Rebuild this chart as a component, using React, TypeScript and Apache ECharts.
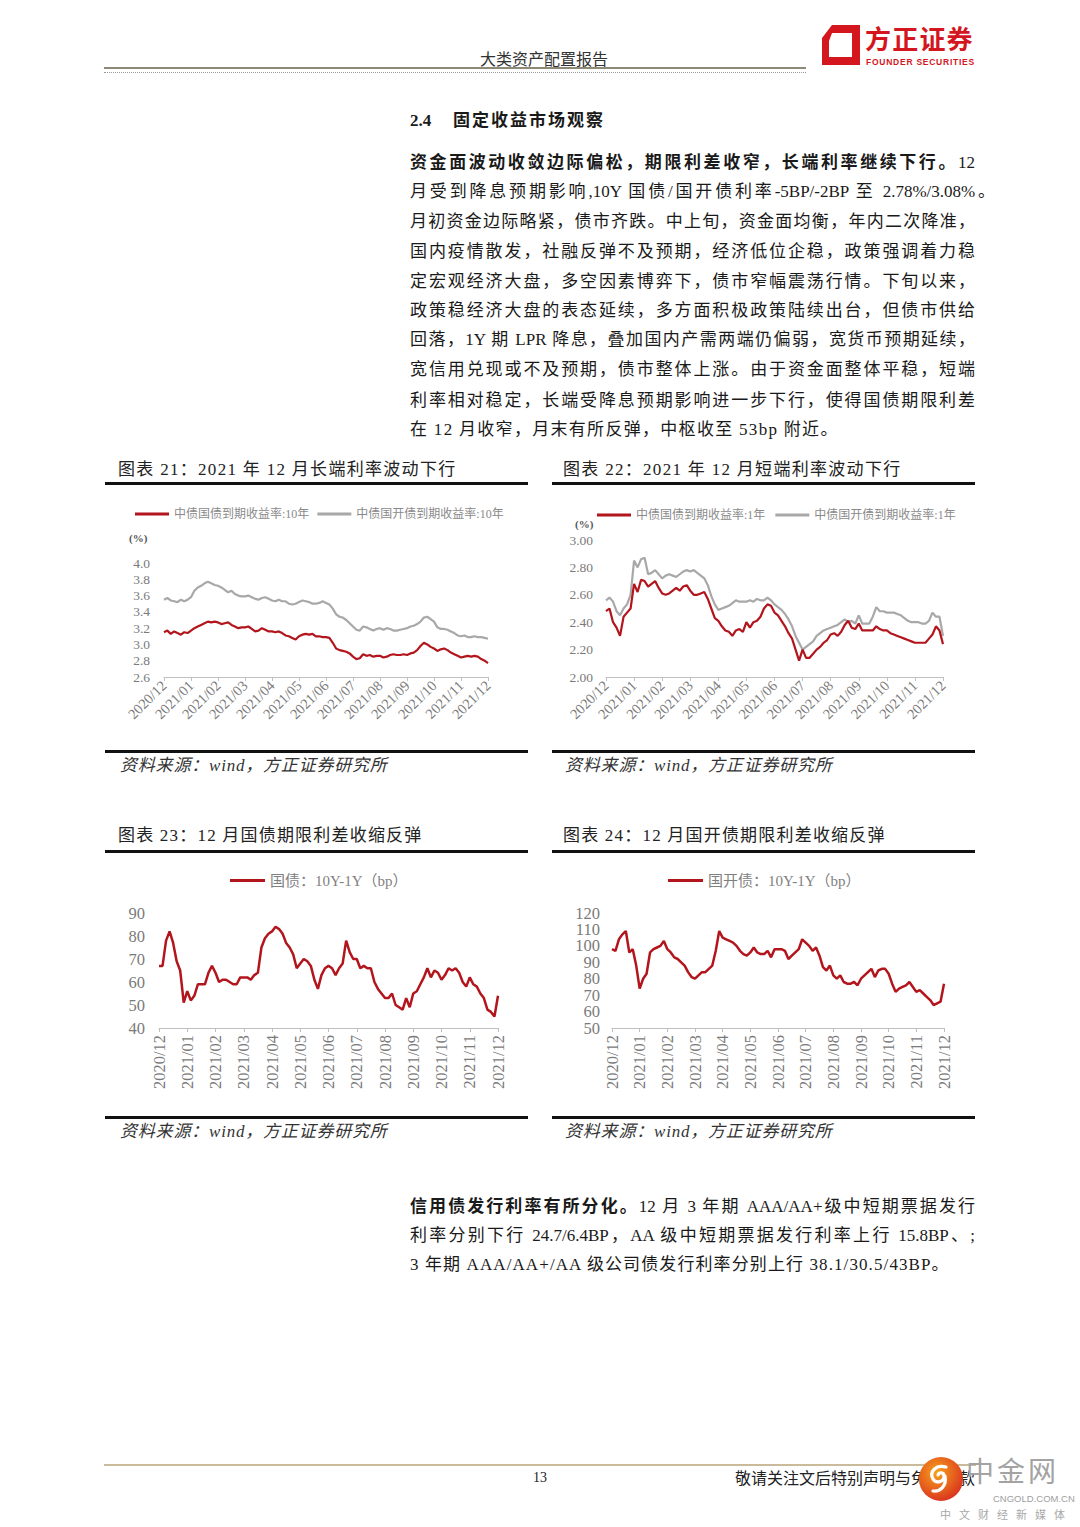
import React, { useEffect, useRef } from "react";
import * as echarts from "echarts";

// ---------- data ----------
const monthLabels = [
  "2020/12", "2021/01", "2021/02", "2021/03", "2021/04", "2021/05", "2021/06",
  "2021/07", "2021/08", "2021/09", "2021/10", "2021/11", "2021/12",
];

// 8 readings per month, plus the final point
const cdb10y = [
  3.55, 3.57, 3.54, 3.53, 3.52, 3.55, 3.53, 3.55,
  3.58, 3.66, 3.70, 3.72, 3.75, 3.77, 3.75, 3.73,
  3.72, 3.70, 3.67, 3.64, 3.66, 3.62, 3.60, 3.59,
  3.59, 3.60, 3.58, 3.56, 3.55, 3.57, 3.58, 3.56,
  3.54, 3.53, 3.55, 3.53, 3.53, 3.50, 3.49, 3.50,
  3.52, 3.54, 3.53, 3.52, 3.50, 3.50, 3.51, 3.53,
  3.51, 3.49, 3.44, 3.37, 3.34, 3.33, 3.30, 3.26,
  3.22, 3.18, 3.17, 3.22, 3.21, 3.19, 3.17, 3.19,
  3.20, 3.18, 3.20, 3.19, 3.17, 3.17, 3.18, 3.19,
  3.20, 3.22, 3.23, 3.25, 3.28, 3.33, 3.34, 3.31,
  3.28, 3.21, 3.19, 3.19, 3.18, 3.16, 3.14, 3.11,
  3.10, 3.11, 3.09, 3.09, 3.10, 3.09, 3.09, 3.08,
  3.07,
];
const cgb10y = [
  3.15, 3.17, 3.13, 3.16, 3.14, 3.12, 3.15, 3.14,
  3.17, 3.20, 3.22, 3.24, 3.26, 3.28, 3.27, 3.28,
  3.27, 3.25, 3.26, 3.27, 3.24, 3.22, 3.20, 3.21,
  3.21, 3.22, 3.19, 3.16, 3.17, 3.20, 3.18, 3.16,
  3.16, 3.15, 3.16, 3.14, 3.11, 3.10, 3.08, 3.06,
  3.10, 3.12, 3.13, 3.12, 3.13, 3.10, 3.10, 3.09,
  3.09, 3.08, 3.02, 2.95, 2.93, 2.92, 2.91, 2.89,
  2.85, 2.82, 2.83, 2.88, 2.86, 2.87, 2.85, 2.86,
  2.86, 2.84, 2.85, 2.87, 2.88, 2.87, 2.87, 2.88,
  2.87, 2.89, 2.90, 2.93, 2.98, 3.02, 3.00, 2.97,
  2.95, 2.92, 2.94, 2.95, 2.93, 2.90, 2.88, 2.86,
  2.84, 2.85, 2.86, 2.85, 2.86, 2.85, 2.82, 2.80,
  2.77,
];
const cdb1y = [
  2.56, 2.58, 2.55, 2.48, 2.45, 2.50, 2.53, 2.60,
  2.85, 2.80, 2.86, 2.87, 2.75, 2.76, 2.78, 2.75,
  2.72, 2.74, 2.75, 2.74, 2.73, 2.75, 2.77, 2.78,
  2.77, 2.78, 2.76, 2.74, 2.72, 2.67, 2.59, 2.53,
  2.49, 2.50, 2.51, 2.52, 2.54, 2.56, 2.55, 2.55,
  2.55, 2.56, 2.55, 2.57, 2.56, 2.56, 2.58, 2.56,
  2.53, 2.51, 2.49, 2.46, 2.42, 2.37, 2.30, 2.25,
  2.20, 2.22, 2.24, 2.26, 2.30, 2.32, 2.34, 2.35,
  2.36, 2.37, 2.38, 2.40, 2.42, 2.40, 2.41, 2.39,
  2.45, 2.39, 2.39, 2.39, 2.44, 2.51, 2.48, 2.48,
  2.47, 2.47, 2.47, 2.46, 2.45, 2.43, 2.41, 2.40,
  2.40, 2.40, 2.39, 2.39, 2.41, 2.47, 2.44, 2.44,
  2.30,
];
const cgb1y = [
  2.48, 2.50, 2.40, 2.36, 2.30, 2.44, 2.47, 2.50,
  2.68, 2.62, 2.71, 2.70, 2.66, 2.68, 2.70, 2.65,
  2.61, 2.60, 2.61, 2.63, 2.65, 2.63, 2.66, 2.67,
  2.63, 2.60, 2.60, 2.61, 2.62, 2.57, 2.50, 2.43,
  2.41, 2.37, 2.34, 2.33, 2.30, 2.34, 2.35, 2.33,
  2.40, 2.36, 2.40, 2.41, 2.44, 2.50, 2.53, 2.52,
  2.47, 2.45, 2.41, 2.37, 2.32, 2.28, 2.20, 2.12,
  2.20, 2.14, 2.14, 2.17, 2.20, 2.22, 2.25, 2.27,
  2.31, 2.32, 2.30, 2.33, 2.38, 2.41, 2.36, 2.35,
  2.39, 2.34, 2.34, 2.34, 2.34, 2.37, 2.35, 2.34,
  2.34, 2.32, 2.31, 2.30, 2.29, 2.28, 2.27, 2.26,
  2.25, 2.25, 2.25, 2.25, 2.28, 2.31, 2.37, 2.34,
  2.24,
];
const cgbSpread = [
  67, 67, 78, 82, 77, 69, 65, 51,
  56, 52, 54, 59, 59, 59, 64, 67,
  64, 60, 61, 61, 60, 59, 59, 62,
  62, 62, 61, 63, 64, 75, 79, 81,
  82, 84, 83, 81, 77, 75, 72, 66,
  68, 70, 69, 67, 61, 57, 63, 66,
  67, 66, 63, 66, 68, 78, 73, 70,
  70, 66, 67, 66, 66, 60, 57, 55,
  53, 53, 55, 50, 49, 48, 53, 49,
  55, 56, 59, 62, 66, 62, 65, 64,
  61, 63, 66, 65, 66, 64, 60, 58,
  62, 59, 58, 55, 53, 48, 47, 45,
  54,
];
const cdbSpread = [
  98, 97, 104, 107, 109, 96, 98, 88,
  74, 80, 83, 96, 98, 99, 100, 103,
  98, 96, 93, 92, 90, 88, 84, 81,
  80, 82, 84, 84, 86, 88, 97, 109,
  105, 104, 103, 102, 100, 97, 95, 94,
  96, 99, 96, 95, 95, 97, 93, 98,
  98, 98, 97, 92, 94, 96, 98, 104,
  102, 100, 97, 99, 94, 87, 85, 88,
  82, 80, 82, 78, 77, 77, 78, 76,
  80, 82, 84, 86, 81, 85, 86, 86,
  83, 77, 72, 74, 75, 76, 78, 75,
  72, 73, 71, 69, 67, 64, 65, 66,
  77,
];

const names = {
  cgb10: "中债国债到期收益率:10年",
  cdb10: "中债国开债到期收益率:10年",
  cgb1: "中债国债到期收益率:1年",
  cdb1: "中债国开债到期收益率:1年",
  cgbS: "国债：10Y-1Y（bp）",
  cdbS: "国开债：10Y-1Y（bp）",
};

// ---------- styles ----------
const SERIF = '"Liberation Serif", "Noto Sans CJK SC", serif';
const SANS = '"Noto Sans CJK SC", "Liberation Sans", sans-serif';
const RED = "#b3151d";
const GRAY = "#a8a8a8";
const PER_MONTH = 8;

function buildCategories(): string[] {
  const out: string[] = [];
  for (let m = 0; m < monthLabels.length - 1; m++) {
    for (let k = 0; k < PER_MONTH; k++) out.push(`${monthLabels[m]}-${k}`);
  }
  out.push(monthLabels[monthLabels.length - 1]);
  return out;
}

function xAxis(gridIndex: number, cats: string[], rotate: number, fontSize: number, margin: number) {
  const show = (i: number) => i % PER_MONTH === 0;
  return {
    type: "category",
    gridIndex,
    data: cats,
    boundaryGap: false,
    axisLine: { show: true, lineStyle: { color: "#bfbfbf", width: 1 } },
    axisTick: { show: true, interval: show, length: 4, lineStyle: { color: "#bfbfbf" } },
    axisLabel: {
      interval: show,
      rotate,
      fontSize,
      margin,
      color: "#7a7a7a",
      fontFamily: SERIF,
      formatter: (v: string) => v.split("-")[0],
    },
    splitLine: { show: false },
  };
}

function yAxis(gridIndex: number, min: number, max: number, interval: number, digits: number, fontSize: number, margin: number) {
  return {
    type: "value",
    gridIndex,
    min,
    max,
    interval,
    axisLine: { show: false },
    axisTick: { show: false },
    splitLine: { show: false },
    axisLabel: {
      fontSize,
      margin,
      color: "#7a7a7a",
      fontFamily: SERIF,
      formatter: (v: number) => v.toFixed(digits),
    },
  };
}

function lineSeries(name: string, data: number[], idx: number, color: string, width: number) {
  return {
    type: "line",
    name,
    data,
    xAxisIndex: idx,
    yAxisIndex: idx,
    showSymbol: false,
    symbol: "none",
    lineStyle: { color, width },
    itemStyle: { color },
  };
}

// ---------- small html helpers ----------
const Txt = ({ x, y, size, lh = 1.5, children, style }: any) => (
  <div
    style={{
      position: "absolute",
      left: x,
      top: y - (size * lh) / 2,
      fontSize: size,
      lineHeight: `${size * lh}px`,
      whiteSpace: "nowrap",
      fontFamily: SERIF,
      color: "#1a1a1a",
      ...style,
    }}
  >
    {children}
  </div>
);

const JLine = ({ y, w = 565, children }: any) => (
  <div
    style={{
      position: "absolute",
      left: 410,
      top: y - 15,
      width: w,
      height: 30,
      lineHeight: "30px",
      fontSize: 17,
      textAlign: "justify",
      textAlignLast: "justify",
      fontFamily: SERIF,
      color: "#1a1a1a",
    } as any}
  >
    {children}
  </div>
);

const Rule = ({ x, y, w, h, color }: any) => (
  <div style={{ position: "absolute", left: x, top: y, width: w, height: h, background: color }} />
);

const B = ({ children }: any) => <span style={{ fontWeight: 700 }}>{children}</span>;

export default function App() {
  const ref = useRef<HTMLDivElement>(null);

  useEffect(() => {
    if (!ref.current) return;
    const chart = echarts.init(ref.current, null, { renderer: "svg", width: 1080, height: 1527 });
    const cats = buildCategories();
    const legendBase = {
      icon: "rect",
      itemWidth: 34,
      itemHeight: 3,
      selectedMode: false,
      orient: "horizontal",
    };
    const option: any = {
      animation: false,
      backgroundColor: "transparent",
      grid: [
        { left: 164, top: 563, width: 324, height: 114, outerBoundsMode: "none" },
        { left: 606, top: 540, width: 337, height: 137, outerBoundsMode: "none" },
        { left: 159, top: 913, width: 339, height: 115, outerBoundsMode: "none" },
        { left: 612, top: 913, width: 332, height: 115, outerBoundsMode: "none" },
      ],
      xAxis: [
        xAxis(0, cats, 45, 14.5, 6),
        xAxis(1, cats, 45, 14.5, 6),
        xAxis(2, cats, 90, 16.5, 7),
        xAxis(3, cats, 90, 16.5, 7),
      ],
      yAxis: [
        yAxis(0, 2.6, 4.0, 0.2, 1, 13.5, 14),
        yAxis(1, 2.0, 3.0, 0.2, 2, 13.5, 13),
        yAxis(2, 40, 90, 10, 0, 16.5, 14),
        yAxis(3, 50, 120, 10, 0, 16.5, 12),
      ],
      legend: [
        {
          ...legendBase,
          data: [names.cgb10, names.cdb10],
          left: 130,
          top: 503,
          itemGap: 8,
          textStyle: { fontSize: 12, color: "#8a8a8a", fontFamily: SERIF },
        },
        {
          ...legendBase,
          data: [names.cgb1, names.cdb1],
          left: 592,
          top: 504,
          itemGap: 10,
          textStyle: { fontSize: 12, color: "#8a8a8a", fontFamily: SERIF },
        },
        {
          ...legendBase,
          itemWidth: 35,
          data: [names.cgbS],
          left: 225,
          top: 868,
          textStyle: { fontSize: 15, color: "#7f7f7f", fontFamily: SERIF },
        },
        {
          ...legendBase,
          itemWidth: 35,
          data: [names.cdbS],
          left: 663,
          top: 868,
          textStyle: { fontSize: 15, color: "#7f7f7f", fontFamily: SERIF },
        },
      ],
      graphic: [
        {
          type: "text",
          left: 129,
          top: 532,
          style: { text: "(%)", fontSize: 11, fontWeight: "bold", fill: "#555", fontFamily: SERIF },
        },
        {
          type: "text",
          left: 575,
          top: 518,
          style: { text: "(%)", fontSize: 11, fontWeight: "bold", fill: "#555", fontFamily: SERIF },
        },
      ],
      series: [
        lineSeries(names.cgb10, cgb10y, 0, RED, 2.2),
        lineSeries(names.cdb10, cdb10y, 0, GRAY, 2.2),
        lineSeries(names.cdb1, cdb1y, 1, GRAY, 2.2),
        lineSeries(names.cgb1, cgb1y, 1, RED, 2.2),
        lineSeries(names.cgbS, cgbSpread, 2, RED, 2.5),
        lineSeries(names.cdbS, cdbSpread, 3, RED, 2.5),
      ],
    };
    chart.setOption(option);
    return () => chart.dispose();
  }, []);

  return (
    <div
      lang="zh-CN"
      style={{
        position: "absolute",
        left: 0,
        top: 0,
        width: 1080,
        height: 1527,
        overflow: "hidden",
        background: "#ffffff",
        fontFamily: SERIF,
      }}
    >
      <div ref={ref} style={{ position: "absolute", left: 0, top: 0, width: 1080, height: 1527 }} />

      {/* header */}
      <Txt x={480} y={59} size={16} lh={1.2} style={{ color: "#333", fontFamily: SANS }}>大类资产配置报告</Txt>
      <Rule x={104} y={67} w={702} h={2} color="#8f8a77" />
      <div style={{ position: "absolute", left: 104, top: 72, width: 702, borderTop: "1px dotted #9a9a9a" }} />
      <svg style={{ position: "absolute", left: 818, top: 22 }} width={46} height={46} viewBox="0 0 46 46">
        <path d="M14 3 H42 V43 H4 V16 Z M14 11 L11 19 V35 H34 V11 Z" fill="#d4161e" fillRule="evenodd" />
      </svg>
      <Txt x={865} y={38} size={26} lh={1.0} style={{ color: "#d4161e", fontWeight: 700, fontFamily: SANS, letterSpacing: 1.2 }}>方正证券</Txt>
      <Txt x={866} y={62} size={8.5} lh={1.0} style={{ color: "#d4161e", fontWeight: 700, fontFamily: '"Liberation Sans", sans-serif', letterSpacing: 0.75 }}>FOUNDER SECURITIES</Txt>

      {/* section heading */}
      <Txt x={410} y={121} size={17} style={{ fontWeight: 700 }}>2.4</Txt>
      <Txt x={453} y={121} size={17} style={{ fontWeight: 700, letterSpacing: 2 }}>固定收益市场观察</Txt>

      {/* paragraph 1 */}
      <JLine y={163}><B>资金面波动收敛边际偏松，期限利差收窄，长端利率继续下行。</B>12</JLine>
      <JLine y={192} w={585}>月受到降息预期影响,10Y 国债/国开债利率-5BP/-2BP 至 2.78%/3.08%。</JLine>
      <JLine y={222}>月初资金边际略紧，债市齐跌。中上旬，资金面均衡，年内二次降准，</JLine>
      <JLine y={252}>国内疫情散发，社融反弹不及预期，经济低位企稳，政策强调着力稳</JLine>
      <JLine y={282}>定宏观经济大盘，多空因素博弈下，债市窄幅震荡行情。下旬以来，</JLine>
      <JLine y={311}>政策稳经济大盘的表态延续，多方面积极政策陆续出台，但债市供给</JLine>
      <JLine y={340}>回落，1Y 期 LPR 降息，叠加国内产需两端仍偏弱，宽货币预期延续，</JLine>
      <JLine y={370}>宽信用兑现或不及预期，债市整体上涨。由于资金面整体平稳，短端</JLine>
      <JLine y={401}>利率相对稳定，长端受降息预期影响进一步下行，使得国债期限利差</JLine>
      <Txt x={410} y={430} size={17} style={{ letterSpacing: 1.3 }}>在 12 月收窄，月末有所反弹，中枢收至 53bp 附近。</Txt>

      {/* chart titles and rules */}
      <Txt x={118} y={470} size={17} style={{ letterSpacing: 1.3, color: "#222" }}>图表 21：2021 年 12 月长端利率波动下行</Txt>
      <Txt x={563} y={470} size={17} style={{ letterSpacing: 1.3, color: "#222" }}>图表 22：2021 年 12 月短端利率波动下行</Txt>
      <Rule x={105} y={482} w={423} h={3} color="#111" />
      <Rule x={552} y={482} w={423} h={3} color="#111" />
      <Rule x={105} y={750} w={423} h={3} color="#111" />
      <Rule x={552} y={750} w={423} h={3} color="#111" />
      <Txt x={120} y={766} size={17} style={{ fontStyle: "italic", letterSpacing: 0.8, color: "#333" }}>资料来源：wind，方正证券研究所</Txt>
      <Txt x={565} y={766} size={17} style={{ fontStyle: "italic", letterSpacing: 0.8, color: "#333" }}>资料来源：wind，方正证券研究所</Txt>

      <Txt x={118} y={836} size={17} style={{ letterSpacing: 1.2, color: "#222" }}>图表 23：12 月国债期限利差收缩反弹</Txt>
      <Txt x={563} y={836} size={17} style={{ letterSpacing: 1.2, color: "#222" }}>图表 24：12 月国开债期限利差收缩反弹</Txt>
      <Rule x={105} y={850} w={423} h={3} color="#111" />
      <Rule x={552} y={850} w={423} h={3} color="#111" />
      <Rule x={105} y={1116} w={423} h={3} color="#111" />
      <Rule x={552} y={1116} w={423} h={3} color="#111" />
      <Txt x={120} y={1132} size={17} style={{ fontStyle: "italic", letterSpacing: 0.8, color: "#333" }}>资料来源：wind，方正证券研究所</Txt>
      <Txt x={565} y={1132} size={17} style={{ fontStyle: "italic", letterSpacing: 0.8, color: "#333" }}>资料来源：wind，方正证券研究所</Txt>

      {/* paragraph 2 */}
      <JLine y={1207}><B>信用债发行利率有所分化。</B>12 月 3 年期 AAA/AA+级中短期票据发行</JLine>
      <JLine y={1236}>利率分别下行 24.7/6.4BP，AA 级中短期票据发行利率上行 15.8BP、;</JLine>
      <Txt x={410} y={1265} size={17} style={{ letterSpacing: 1.1 }}>3 年期 AAA/AA+/AA 级公司债发行利率分别上行 38.1/30.5/43BP。</Txt>

      {/* footer */}
      <Rule x={104} y={1464} w={872} h={2} color="#c9bb9c" />
      <Txt x={533} y={1477} size={14} style={{ color: "#222" }}>13</Txt>
      <Txt x={735} y={1477} size={16} style={{ color: "#222", fontFamily: SANS }}>敬请关注文后特别声明与免责条款</Txt>

      {/* watermark */}
      <svg style={{ position: "absolute", left: 916, top: 1454 }} width={50} height={50} viewBox="0 0 50 50">
        <defs>
          <radialGradient id="wmg" cx="40%" cy="35%" r="70%">
            <stop offset="0%" stopColor="#f7a21b" />
            <stop offset="100%" stopColor="#d9301f" />
          </radialGradient>
        </defs>
        <circle cx="25" cy="25" r="22" fill="url(#wmg)" />
        <path d="M30 13 C20 10 13 18 17 25 C20 30 28 28 28 22 C28 18 23 18 22 21 M29 22 C31 32 24 38 17 37" fill="none" stroke="#ffffff" strokeWidth="3.2" strokeLinecap="round" />
      </svg>
      <Txt x={966} y={1470} size={28} lh={1.0} style={{ color: "#a3a3a3", fontFamily: SANS, letterSpacing: 3 }}>中金网</Txt>
      <Txt x={993} y={1499} size={9.5} lh={1.0} style={{ color: "#a0a0a0", fontFamily: '"Liberation Sans", sans-serif' }}>CNGOLD.COM.CN</Txt>
      <Txt x={940} y={1514} size={11} lh={1.1} style={{ color: "#a8a8a8", fontFamily: SANS, letterSpacing: 8 }}>中文财经新媒体</Txt>
    </div>
  );
}
